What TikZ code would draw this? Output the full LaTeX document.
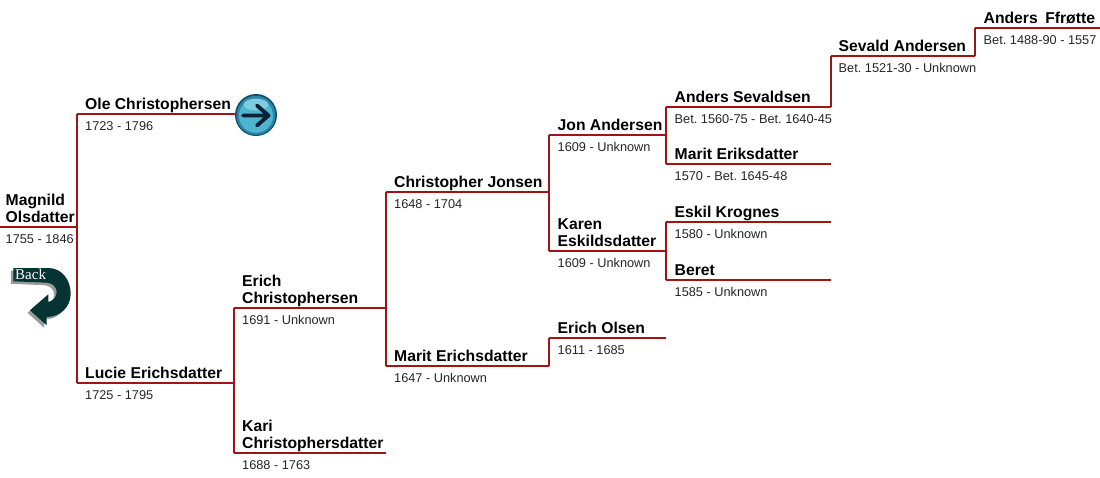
\documentclass[tikz,border=0pt]{standalone}
\usepackage{fontspec}
\setmainfont{Liberation Sans}
\newfontfamily\backfont{Liberation Serif}
\frenchspacing
\definecolor{linered}{HTML}{A01414}
\definecolor{backgreen}{HTML}{063432}
\definecolor{backshadow}{HTML}{9A9A9A}
\definecolor{disc}{HTML}{4FB4CE}
\definecolor{discmid}{HTML}{2A86A6}
\definecolor{discdark}{HTML}{0E4F6C}
\definecolor{disclight}{HTML}{A6E2EC}
\definecolor{arrowdark}{HTML}{0A2233}
\tikzset{
  x=1pt,y=-1pt,
  kin/.style={draw=linered,line width=1.4pt},
  namelabel/.style={anchor=south west,inner sep=0pt,font=\fontsize{15.7}{17}\selectfont\bfseries,align=left},
  datelabel/.style={anchor=base west,inner sep=0pt,font=\fontsize{12.75}{14}\selectfont,text=black!85},
}
\newcommand{\person}[7]{% id x0 x1 y name date textx
  \coordinate (#1-l) at (#2,#4);
  \coordinate (#1-r) at (#3,#4);
  \draw[kin] (#1-l) -- (#1-r);
  \node[namelabel] (#1-name) at (#7,#4-1.3) {#5\rule[-3.4pt]{0pt}{1pt}};
  \node[datelabel] (#1-date) at (#7,#4+16.8) {#6};
}
\begin{document}
\begin{tikzpicture}
\useasboundingbox (0,0) rectangle (1100,477);
\person{magnild}{0}{77}{227}{Magnild\\Olsdatter}{1755 - 1846}{5.5}
\person{ole}{77}{236}{114}{Ole Christophersen}{1723 - 1796}{85}
\person{lucie}{77}{234}{383}{Lucie Erichsdatter}{1725 - 1795}{85}
\person{erichc}{234}{386}{308}{Erich\\Christophersen}{1691 - Unknown}{242}
\person{kari}{234}{386}{453}{Kari\\Christophersdatter}{1688 - 1763}{242}
\person{christopher}{386}{549}{192}{Christopher Jonsen}{1648 - 1704}{394}
\person{marit}{386}{549}{366}{Marit Erichsdatter}{1647 - Unknown}{394}
\person{jon}{549}{666}{135}{Jon Andersen}{1609 - Unknown}{557.5}
\person{karen}{549}{666}{251}{Karen\\Eskildsdatter}{1609 - Unknown}{557.5}
\person{olsen}{549}{666}{338}{Erich Olsen}{1611 - 1685}{557.5}
\person{anders}{666}{831}{107}{Anders Sevaldsen}{Bet. 1560-75 - Bet. 1640-45}{674.5}
\person{mariteriks}{666}{831}{164}{Marit Eriksdatter}{1570 - Bet. 1645-48}{674.5}
\person{eskil}{666}{831}{222}{Eskil Krognes}{1580 - Unknown}{674.5}
\person{beret}{666}{831}{280}{Beret}{1585 - Unknown}{674.5}
\person{sevald}{831}{975}{56}{Sevald Andersen}{Bet. 1521-30 - Unknown}{838.5}
\person{ffrotte}{975}{1100}{28}{Anders\hspace{0.2em} Ffrøtte}{Bet. 1488-90 - 1557}{983.5}
% generation connectors
\draw[kin] (ole-l) -- (lucie-l);
\draw[kin] (erichc-l) -- (kari-l);
\draw[kin] (christopher-l) -- (marit-l);
\draw[kin] (jon-l) -- (karen-l);
\draw[kin] (olsen-l) -- (marit-r);
\draw[kin] (anders-l) -- (mariteriks-l);
\draw[kin] (eskil-l) -- (beret-l);
\draw[kin] (sevald-l) -- (anders-r);
\draw[kin] (ffrotte-l) -- (sevald-r);
% forward button
\fill[discdark] (256,115) circle (21);
\fill[discmid] (256,115.3) circle (19.5);
\fill[disc] (256,115.8) circle (17);
\fill[disclight,opacity=.55] (256,104.5) ellipse (12.5 and 6);
\draw[arrowdark,line width=3.8pt,line cap=round,line join=round] (243,115.5) -- (268.5,115.5) (257,105.5) -- (268.5,115.5) -- (257,125.5);
% back arrow
\def\backshape{(13.3,268) -- (48.3,268) .. controls (62,268) and (70.7,280) .. (70.7,293.7)
  .. controls (70.7,307) and (60,317) .. (46.7,317) -- (46.7,325.3) -- (30,310.3) -- (48.3,294.3) -- (48.3,302)
  .. controls (53,301) and (56.7,297) .. (56.7,292) .. controls (56.7,287) and (52,282.7) .. (46.7,282.7) -- (13.3,281.3) -- cycle}
\fill[backshadow,shift={(-2.5,2.5)}] \backshape;
\fill[backgreen] \backshape;
\node[inner sep=0pt,anchor=base west,text=white,font=\backfont\fontsize{15}{15}\selectfont] (backlabel) at (15,279.3) {Back};
\end{tikzpicture}
\end{document}
